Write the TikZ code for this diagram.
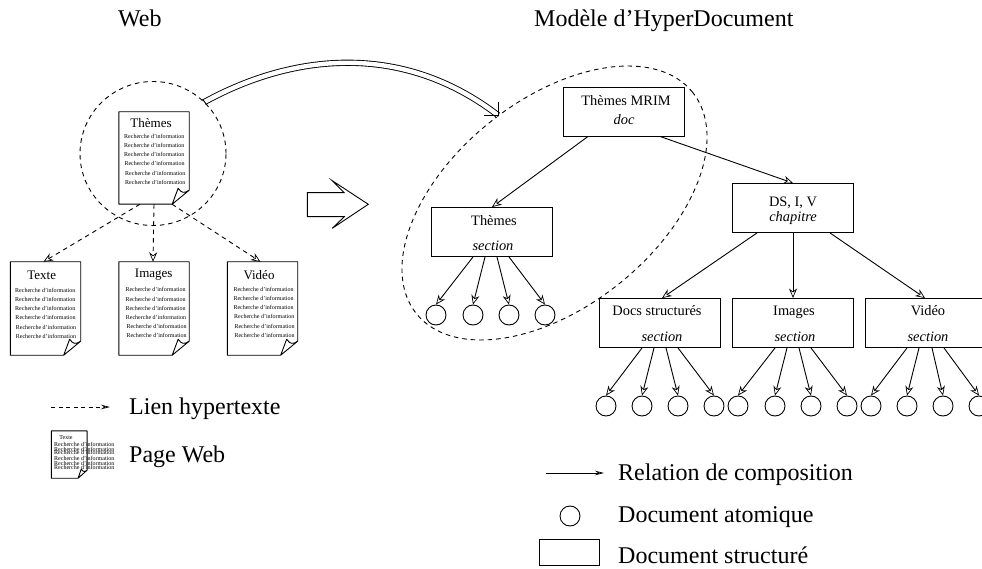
\documentclass[tikz,border=0pt]{standalone}
\usepackage{fontspec}
\setmainfont{Liberation Serif}
\usetikzlibrary{arrows.meta,shapes.geometric,calc}
\tikzset{
  thin line/.style={line width=0.9pt},
  tip/.style={-{Stealth[open,length=9.5pt,width=8pt,inset=3pt,line width=0.7pt]}},
  legtip/.style={-{Stealth[open,length=9pt,width=4.5pt,inset=3pt,line width=0.7pt]}},
  dash line/.style={thin line,dash pattern=on 4.5pt off 4pt},
  box/.style={draw,thin line,rectangle,minimum width=121pt,minimum height=49pt,inner sep=0pt},
  atom/.style={draw,thin line,circle,minimum size=20pt,inner sep=0pt},
  pagebody/.style={rectangle,minimum width=70pt,minimum height=92pt,inner sep=0pt},
  hugetxt/.style={font=\fontsize{24}{26}\selectfont,inner sep=0pt,anchor=base west},
  boxtxt/.style={font=\fontsize{14.4}{16}\selectfont,inner sep=0pt,anchor=base},
  boxit/.style={font=\fontsize{14.4}{16}\itshape\selectfont,inner sep=0pt,anchor=base},
  pagetitle/.style={font=\fontsize{13}{15}\selectfont,inner sep=0pt},
  rline/.style={font=\fontsize{6}{7}\selectfont,inner sep=0pt,anchor=west},
}
% name, centre x, centre y, half w, half h, fold dx, fold dy
\newcommand\docsheet[7]{%
  \node[pagebody,minimum width=#4*2pt,minimum height=#5*2pt] (#1) at (#2,#3) {};
  \draw[thin line,line join=round]
    ([xshift=#6*-1pt]#1.south east) -- (#1.south west) -- (#1.north west) -- (#1.north east)
    -- ([yshift=#7*1pt]#1.south east) -- ([xshift=#6*-1pt]#1.south east)
    -- ([xshift=#6*-0.65pt,yshift=#7*1.14pt]#1.south east)
    .. controls ([xshift=#6*-0.45pt,yshift=#7*0.8pt]#1.south east) and ([xshift=#6*-0.3pt,yshift=#7*0.75pt]#1.south east)
    .. ([yshift=#7*1pt]#1.south east);
}
\begin{document}
\begin{tikzpicture}[x=1pt,y=-1pt]
\clip (0,0) rectangle (982,569);
% titles
\node[hugetxt] (tweb) at (118,27) {Web};
\node[hugetxt] (tmod) at (534,27) {Modèle d’HyperDocument};
% left: circle and pages
\node[draw,dash line,ellipse,minimum width=146pt,minimum height=144pt,inner sep=0pt] (C) at (153,153.5) {};
\docsheet{pth}{154}{158}{35}{46}{17}{14}
\docsheet{pte}{45.5}{308.5}{35}{46.5}{17}{14}
\docsheet{pim}{154}{308.5}{35}{46.5}{17}{14}
\docsheet{pvi}{262.5}{308.5}{35}{46.5}{17}{14}
\node[pagetitle] (tth) at (151,123) {Thèmes};
\node[pagetitle] (tte) at (41.7,275.5) {Texte};
\node[pagetitle] (tim) at (153.7,275) {Images};
\node[pagetitle] (tvi) at (259,275) {Vidéo};
\foreach \x/\y [count=\i] in {124/136,124/145,124/154,124.3/163,125/173,125/182}
  \node[rline] (lth\i) at (\x,\y) {Recherche d’information};
\foreach \x/\y [count=\i] in {15/290,15/299,15/308,15.3/317,15.7/327,15.7/336}
  \node[rline] (lte\i) at (\x,\y) {Recherche d’information};
\foreach \x/\y [count=\i] in {125.3/289,125.3/299,125.3/308,125.7/317,126.3/326,126.3/335}
  \node[rline] (lim\i) at (\x,\y) {Recherche d’information};
\foreach \x/\y [count=\i] in {233.3/289,233.3/298,233.3/307,234/316,234.3/326,234.3/335}
  \node[rline] (lvi\i) at (\x,\y) {Recherche d’information};
\draw[dash line,tip] ([xshift=-14pt]pth.south) -- ([xshift=-2pt]pte.north);
\draw[dash line,tip] (pth.south) -- ([xshift=-1pt]pim.north);
\draw[dash line,tip] ([xshift=18pt]pth.south) -- ([xshift=-2pt]pvi.north);
% big arrow
\coordinate (ba) at (307.3,192.7);
\draw[thin line,line join=miter]
  (ba) -- (344.3,192.7) -- (332.3,180.7) -- (368.3,204.3) -- (332.3,228.3) -- (344.3,216.7) -- (307.3,216.7) -- cycle;
% right ellipse
\node[draw,dash line,ellipse,rotate=38.7,minimum width=354pt,minimum height=206.8pt,inner sep=0pt] (E) at (554.5,203) {};
% double arrow
\draw[thin line,double,double distance=4.4pt,line cap=butt] (C.45) .. controls (290,55) and (400,40) .. (E.84);
\draw[thin line] ([xshift=-2pt,yshift=2.9pt]C.45) -- ([xshift=2pt,yshift=-2.9pt]C.45);
\draw[thin line] ([yshift=13pt]E.84) -- (E.84) -- ([xshift=-14pt]E.84);
% tree
\node[box,fill=white] (mrim) at (623.5,111.5) {};
\node[boxtxt] at (626,105.5) (mrim1) {Thèmes MRIM};
\node[boxit] at (624,125) (mrim2) {doc};
\node[box] (ths) at (491.5,232) {};
\node[boxtxt] at (494,226) (ths1) {Thèmes};
\node[boxit] at (493,251) (ths2) {section};
\node[box] (ds) at (793,208) {};
\node[boxtxt] at (793,206.5) (ds1) {DS, I, V};
\node[boxit] at (793,222) (ds2) {chapitre};
\node[box] (docs) at (660,323) {};
\node[boxtxt] at (657,316) (docs1) {Docs structurés};
\node[boxit] at (662,341) (docs2) {section};
\node[box] (imgs) at (793,323) {};
\node[boxtxt] at (794,316) (imgs1) {Images};
\node[boxit] at (795,341) (imgs2) {section};
\node[box] (vids) at (926,323) {};
\node[boxtxt] at (928,316) (vids1) {Vidéo};
\node[boxit] at (928,341) (vids2) {section};
\draw[thin line,tip] ([xshift=-35.5pt]mrim.south) -- ([xshift=0.5pt]ths.north);
\draw[thin line,tip] ([xshift=36.5pt]mrim.south) -- (ds.north);
\draw[thin line,tip] ([xshift=-36pt]ds.south) -- ([xshift=2pt]docs.north);
\draw[thin line,tip] (ds.south) -- (imgs.north);
\draw[thin line,tip] ([xshift=37pt]ds.south) -- ([xshift=-1pt]vids.north);
% atoms
\foreach \p/\cy/\pa/\xa/\xb/\xc/\xd/\sa/\sb/\sc/\sd in {
  a/315/ths/436/473/509/545/-18.5/-6.5/5.5/17.5,
  b/406/docs/606/642/678/714/-18/-6/6/18,
  c/406/imgs/738/775/811/847/-18/-6/6/18,
  d/406/vids/871/907/943/979/-19/-7/6/18}{
  \node[atom] (\p1) at (\xa,\cy) {};
  \node[atom] (\p2) at (\xb,\cy) {};
  \node[atom] (\p3) at (\xc,\cy) {};
  \node[atom] (\p4) at (\xd,\cy) {};
  \draw[thin line,tip] ([xshift=\sa pt]\pa.south) -- (\p1.north);
  \draw[thin line,tip] ([xshift=\sb pt]\pa.south) -- (\p2.north);
  \draw[thin line,tip] ([xshift=\sc pt]\pa.south) -- (\p3.north);
  \draw[thin line,tip] ([xshift=\sd pt]\pa.south) -- (\p4.north);
}
% left legend
\coordinate (lega) at (51,407);
\coordinate (legb) at (110,407);
\draw[dash line,legtip,dash pattern=on 4pt off 3.5pt] (lega) -- (legb);
\node[hugetxt] (legt1) at (129,414) {Lien hypertexte};
\docsheet{legp}{69.2}{454.5}{17.7}{23.5}{9}{8}
\node[font=\fontsize{6}{7}\selectfont,inner sep=0pt] (legpt) at (66,438) {Texte};
\foreach \y [count=\i] in {444,449.3,452.7,458.3,463.3,467.3}
  \node[rline] (legl\i) at (54,\y) {Recherche d’information};
\node[hugetxt] (legt2) at (129,462) {Page Web};
% right legend
\coordinate (rega) at (546,473);
\coordinate (regb) at (604,473);
\draw[thin line,legtip] (rega) -- (regb);
\node[hugetxt] (regt1) at (618,480) {Relation de composition};
\node[atom] (rego) at (570,516) {};
\node[hugetxt] (regt2) at (618,522) {Document atomique};
\node[draw,thin line,rectangle,minimum width=60pt,minimum height=26pt,inner sep=0pt] (regb2) at (569,552) {};
\node[hugetxt] (regt3) at (618,563) {Document structuré};
\end{tikzpicture}
\end{document}
